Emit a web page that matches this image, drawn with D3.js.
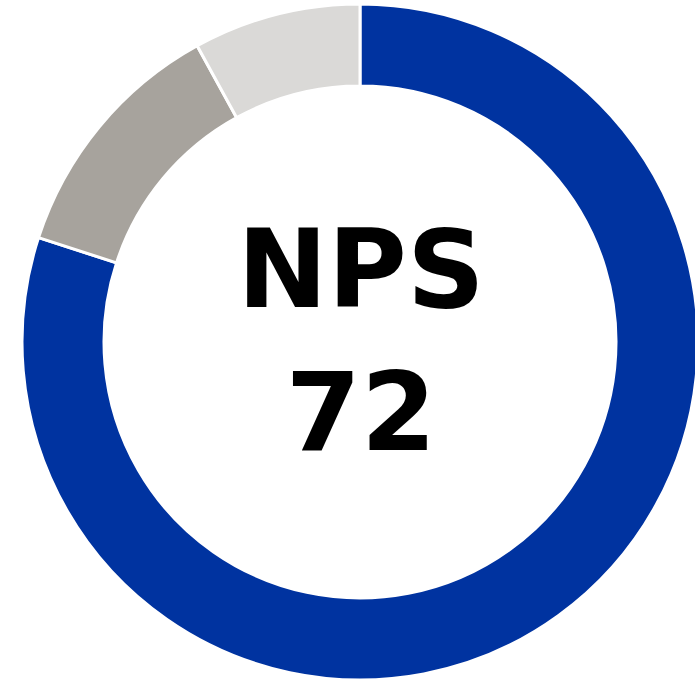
<!DOCTYPE html>
<html>
<head>
<meta charset="utf-8">
<script src="https://cdn.jsdelivr.net/npm/d3@7"></script>
<style>
  html, body { margin: 0; padding: 0; background: #fff; overflow: hidden; }
  #chart { width: 695px; height: 679px; }
</style>
</head>
<body>
<div id="chart"></div>
<script>
// NPS breakdown (percent of respondents)
const categories = ["Promoters", "Passives", "Detractors"];
const values = [80, 12, 8];
const colors = ["#0033a0", "#a7a39d", "#dad9d7"];
const npsLabel = "NPS";
const npsScore = 72;

const width = 695, height = 679;
const cx = 360, cy = 342;
const outerR = 338, innerR = 256;

const svg = d3.select("#chart")
    .append("svg")
    .attr("width", width)
    .attr("height", height);

const g = svg.append("g")
    .attr("transform", `translate(${cx},${cy})`);

const pie = d3.pie()
    .sort(null)
    .value(d => d.value);

const arc = d3.arc()
    .innerRadius(innerR)
    .outerRadius(outerR);

const data = categories.map((c, i) => ({ name: c, value: values[i], color: colors[i] }));

g.selectAll("path")
    .data(pie(data))
    .enter()
    .append("path")
    .attr("d", arc)
    .attr("fill", d => d.data.color)
    .attr("stroke", "#fff")
    .attr("stroke-width", 3);

// Center label
g.append("text")
    .attr("x", 1)
    .attr("y", -35)
    .attr("text-anchor", "middle")
    .attr("fill", "#000")
    .style("font-family", "DejaVu Sans")
    .style("font-weight", "bold")
    .style("font-size", "108px")
    .text(npsLabel);

g.append("text")
    .attr("x", 1)
    .attr("y", 108)
    .attr("text-anchor", "middle")
    .attr("fill", "#000")
    .style("font-family", "DejaVu Sans")
    .style("font-weight", "bold")
    .style("font-size", "108px")
    .text(npsScore);
</script>
</body>
</html>
